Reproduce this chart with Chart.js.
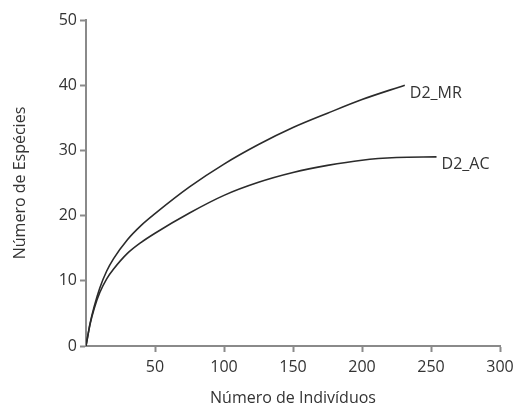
<!DOCTYPE html>
<html>
<head>
<meta charset="utf-8">
<script src="https://cdn.jsdelivr.net/npm/chart.js@4"></script>
<style>
 html,body{margin:0;padding:0;background:#fff;}
 #wrap{width:515px;height:408px;}
</style>
</head>
<body>
<div id="wrap"><canvas id="curvas" width="515" height="408"></canvas></div>
<script>
// ===== DADOS =====
const xMR=[0,3,6,10,15,20,30,40,50,75,100,125,150,175,200,231];
const yMR=[0,3.5,6.1,8.9,11.5,13.4,16.3,18.5,20.3,24.4,27.9,30.9,33.5,35.7,37.8,40.0];
const xAC=[0,3,6,10,15,20,30,40,50,75,100,125,150,175,200,225,254];
const yAC=[0,3.4,5.8,8.2,10.3,11.8,14.2,15.9,17.3,20.4,23.1,25.1,26.6,27.7,28.5,28.9,29.0];
const nomes=["D2_MR","D2_AC"];
const xTicks=[50,100,150,200,250,300];

const pts=(xs,ys)=>xs.map((x,i)=>({x:x,y:ys[i]}));
const cinza="#8a8a8a", texto="#333";
const fonte="'Open Sans', 'Noto Sans', sans-serif";

// rótulo no fim de cada curva
const rotulos={
 id:"rotulos",
 afterDatasetsDraw(chart){
  const ctx=chart.ctx, sx=chart.scales.x, sy=chart.scales.y;
  ctx.save();
  ctx.font="16px "+fonte;
  ctx.fillStyle=texto;
  ctx.textBaseline="middle";
  chart.data.datasets.forEach(ds=>{
   const p=ds.data[ds.data.length-1];
   ctx.fillText(ds.label,sx.getPixelForValue(p.x)+5,sy.getPixelForValue(p.y)+8);
  });
  ctx.restore();
 }
};

const eixo={
 border:{color:cinza,width:2},
 grid:{drawOnChartArea:false,drawTicks:true,tickLength:6,tickColor:cinza,tickWidth:2},
};

new Chart(document.getElementById("curvas"),{
 type:"line",
 data:{datasets:[
  {label:nomes[0],data:pts(xMR,yMR),borderColor:"#2b2b2b",borderWidth:1.6,pointRadius:0,cubicInterpolationMode:"monotone"},
  {label:nomes[1],data:pts(xAC,yAC),borderColor:"#2b2b2b",borderWidth:1.6,pointRadius:0,cubicInterpolationMode:"monotone"}
 ]},
 options:{
  responsive:false,animation:false,
  layout:{padding:{top:20,right:15,left:0,bottom:0}},
  plugins:{legend:{display:false},tooltip:{enabled:false}},
  scales:{
   x:{
    type:"linear",min:0,max:300,
    ...eixo,
    afterBuildTicks:s=>{s.ticks=xTicks.map(v=>({value:v}));},
    afterFit:s=>{s.height=62;s.paddingLeft=0;s.paddingRight=0;},
    ticks:{color:texto,font:{family:fonte,size:16},padding:6,maxRotation:0},
    title:{display:true,text:"Número de Indivíduos",color:texto,font:{family:fonte,size:16},padding:{top:0,bottom:0}}
   },
   y:{
    min:0,max:50,
    ...eixo,
    ticks:{stepSize:10,color:texto,font:{family:fonte,size:16},padding:3},
    afterFit:s=>{s.width=86;s.paddingTop=0;s.paddingBottom=0;},
    title:{display:true,text:"Número de Espécies",color:texto,font:{family:fonte,size:16},padding:{top:11,bottom:0}}
   }
  }
 },
 plugins:[rotulos]
});
</script>
</body>
</html>
